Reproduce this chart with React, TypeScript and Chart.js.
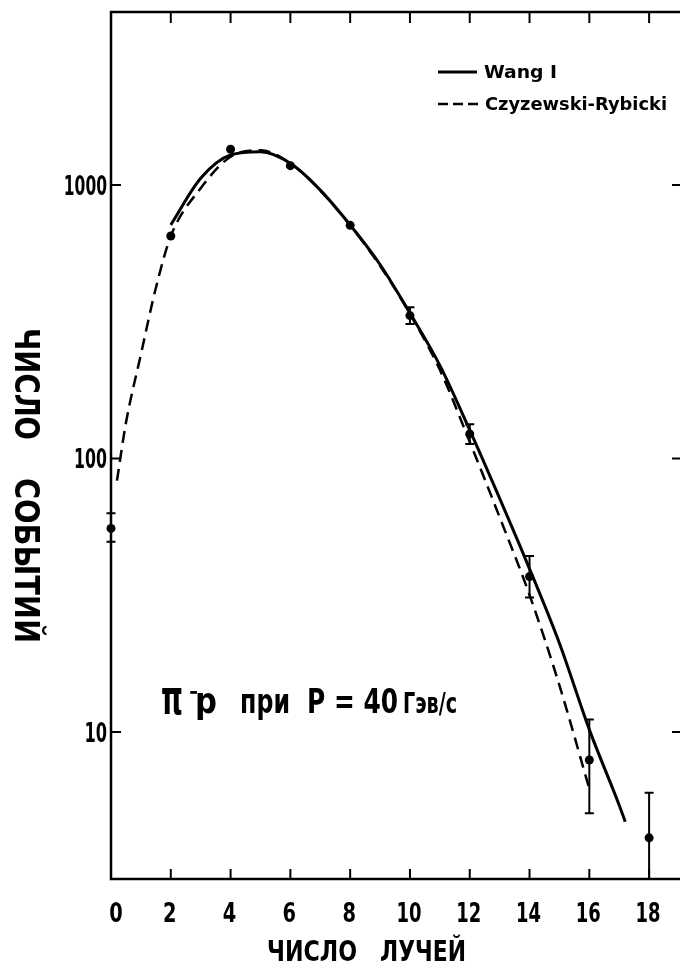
import React, { useEffect, useRef } from "react";
import { Chart, registerables } from "chart.js";

Chart.register(...registerables);

// ---------- data ----------
const X_TICKS = [0, 2, 4, 6, 8, 10, 12, 14, 16, 18];
const Y_TICKS = [10, 100, 1000];
const X_MIN = 0;
const X_MAX = 19.1;
const Y_MIN = 2.9;
const Y_MAX = 4291;

// experimental points: number of prongs vs number of events
const POINT_X = [0, 2, 4, 6, 8, 10, 12, 14, 16, 18];
const POINT_Y = [55.5, 651, 1351, 1177, 712, 333, 123, 37, 7.9, 4.1];
const ERR_LO = [49.6, null, null, null, null, 310, 113, 31, 5.04, 2.5];
const ERR_HI = [63, null, null, null, null, 357, 133.5, 44, 11.1, 6.0];

// Wang I (solid)
const WANG_X = [2, 3, 4, 5, 6, 7, 8, 9, 10, 11, 12, 13, 14, 15, 16, 17, 17.2];
const WANG_Y = [715, 1058, 1288, 1324, 1200, 958, 714, 512, 340, 219, 127, 71.5, 39.5, 21.1, 10.2, 5.4, 4.7];

// Czyzewski-Rybicki (dashed)
const CR_X = [0.2, 0.5, 1, 1.5, 2, 3, 4, 5, 6, 7, 8, 9, 10, 11, 12, 13, 14, 15, 16];
const CR_Y = [83, 135, 240, 420, 650, 973, 1269, 1340, 1200, 955, 712, 506, 338, 211, 115, 61, 31.7, 14.8, 6.2];

const LEGEND_LABELS = ["Wang I", "Czyzewski-Rybicki"];
const X_TITLE = ["ЧИСЛО", "ЛУЧЕЙ"];
const Y_TITLE = ["ЧИСЛО", "СОБЫТИЙ"];

const FONT = "'DejaVu Sans', 'Noto Sans', sans-serif";

function fitText(
  ctx: CanvasRenderingContext2D,
  text: string,
  x: number,
  y: number,
  w: number,
  font: string,
  align: "left" | "center" | "right" = "left"
) {
  ctx.save();
  ctx.font = font;
  ctx.textAlign = "left";
  ctx.textBaseline = "alphabetic";
  const m = ctx.measureText(text).width || 1;
  const x0 = align === "left" ? x : align === "center" ? x - w / 2 : x - w;
  ctx.translate(x0, y);
  ctx.scale(w / m, 1);
  ctx.fillText(text, 0, 0);
  ctx.restore();
}

const decorPlugin = {
  id: "decor",
  afterDatasetsDraw(chart: any) {
    const ctx: CanvasRenderingContext2D = chart.ctx;
    const xs = chart.scales.x;
    const ys = chart.scales.y;
    const a = chart.chartArea;
    ctx.save();
    ctx.beginPath();
    ctx.rect(a.left - 20, a.top, a.right - a.left + 40, a.bottom - a.top);
    ctx.clip();
    ctx.strokeStyle = "#000";
    ctx.lineWidth = 2;
    const cap = 4.5;
    POINT_X.forEach((xv, i) => {
      const lo = ERR_LO[i];
      const hi = ERR_HI[i];
      if (lo == null || hi == null) return;
      const px = xs.getPixelForValue(xv);
      const pl = ys.getPixelForValue(lo);
      const ph = ys.getPixelForValue(hi);
      ctx.beginPath();
      ctx.moveTo(px, pl);
      ctx.lineTo(px, ph);
      ctx.moveTo(px - cap, ph);
      ctx.lineTo(px + cap, ph);
      if (pl < a.bottom - 2) {
        ctx.moveTo(px - cap, pl);
        ctx.lineTo(px + cap, pl);
      }
      ctx.stroke();
    });
    ctx.restore();
  },
  afterDraw(chart: any) {
    const ctx: CanvasRenderingContext2D = chart.ctx;
    const xs = chart.scales.x;
    const ys = chart.scales.y;
    const a = chart.chartArea;
    ctx.save();
    ctx.strokeStyle = "#000";
    ctx.fillStyle = "#000";
    // frame
    ctx.lineWidth = 2.5;
    ctx.strokeRect(a.left, a.top, a.right - a.left, a.bottom - a.top);
    // inner ticks + tick labels
    ctx.lineWidth = 2;
    X_TICKS.forEach((v) => {
      const px = xs.getPixelForValue(v);
      if (v !== X_MIN) {
        ctx.beginPath();
        ctx.moveTo(px, a.bottom);
        ctx.lineTo(px, a.bottom - 10);
        ctx.moveTo(px, a.top);
        ctx.lineTo(px, a.top + 11);
        ctx.stroke();
      }
      const s = String(v);
      const cx = v === X_MIN ? px + 5 : px - 1;
      fitText(ctx, s, cx, a.bottom + 43, 11.5 * s.length + 2, `bold 27px ${FONT}`, "center");
    });
    Y_TICKS.forEach((v) => {
      const py = ys.getPixelForValue(v);
      ctx.beginPath();
      ctx.moveTo(a.left, py);
      ctx.lineTo(a.left + 10, py);
      ctx.moveTo(a.right, py);
      ctx.lineTo(a.right - 10, py);
      ctx.stroke();
      const s = String(v);
      fitText(ctx, s, a.left - 4, py + 10, 10.3 * s.length + 2, `bold 27px ${FONT}`, "right");
    });

    // legend
    ctx.lineWidth = 3;
    ctx.beginPath();
    ctx.moveTo(438, 72);
    ctx.lineTo(477, 72);
    ctx.stroke();
    ctx.lineWidth = 2.5;
    ctx.setLineDash([10, 5]);
    ctx.beginPath();
    ctx.moveTo(438, 104);
    ctx.lineTo(481, 104);
    ctx.stroke();
    ctx.setLineDash([]);
    fitText(ctx, LEGEND_LABELS[0], 484, 78, 73, `bold 18px ${FONT}`);
    fitText(ctx, LEGEND_LABELS[1], 485, 110, 182, `bold 17px ${FONT}`);

    // annotation
    fitText(ctx, "π", 161, 714, 22, `bold 48px ${FONT}`);
    fitText(ctx, "−", 189, 700, 9, `bold 24px ${FONT}`);
    fitText(ctx, "p", 195, 713, 22, `bold 36px ${FONT}`);
    fitText(ctx, "при", 240, 713, 50, `bold 33px ${FONT}`);
    fitText(ctx, "P = 40", 307, 713, 91, `bold 34px ${FONT}`);
    fitText(ctx, "Гэв/с", 403, 713, 54, `bold 29px ${FONT}`);

    // axis titles
    fitText(ctx, X_TITLE[0], 267, 961, 90, `bold 28px ${FONT}`);
    fitText(ctx, X_TITLE[1], 380, 961, 86, `bold 28px ${FONT}`);

    ctx.save();
    ctx.translate(15, 328);
    ctx.rotate(Math.PI / 2);
    fitText(ctx, Y_TITLE[0], 0, 0, 112, `bold 34px ${FONT}`);
    fitText(ctx, Y_TITLE[1], 150, 0, 165, `bold 34px ${FONT}`);
    ctx.restore();

    ctx.restore();
  },
};

export default function App() {
  const ref = useRef<HTMLCanvasElement | null>(null);

  useEffect(() => {
    if (!ref.current) return;
    const chart = new Chart(ref.current, {
      type: "line",
      data: {
        datasets: [
          {
            label: LEGEND_LABELS[0],
            data: WANG_X.map((x, i) => ({ x, y: WANG_Y[i] })),
            borderColor: "#000",
            borderWidth: 3,
            pointRadius: 0,
            fill: false,
            cubicInterpolationMode: "monotone",
          },
          {
            label: LEGEND_LABELS[1],
            data: CR_X.map((x, i) => ({ x, y: CR_Y[i] })),
            borderColor: "#000",
            borderWidth: 2.5,
            borderDash: [12, 7],
            pointRadius: 0,
            fill: false,
            cubicInterpolationMode: "monotone",
          },
          {
            label: "data",
            data: POINT_X.map((x, i) => ({ x, y: POINT_Y[i] })),
            showLine: false,
            pointRadius: 4.5,
            pointBackgroundColor: "#000",
            pointBorderColor: "#000",
            pointBorderWidth: 0,
            clip: false,
          } as any,
        ],
      },
      options: {
        responsive: false,
        animation: false,
        devicePixelRatio: 1,
        layout: { padding: { left: 0, right: 18, top: 12, bottom: 0 } },
        plugins: {
          legend: { display: false },
          tooltip: { enabled: false },
        },
        scales: {
          x: {
            type: "linear",
            min: X_MIN,
            max: X_MAX,
            grid: { display: false },
            border: { display: false },
            afterBuildTicks: (s: any) => {
              s.ticks = X_TICKS.map((value) => ({ value }));
            },
            afterFit: (s: any) => {
              s.height = 85;
            },
            ticks: { display: false },
          },
          y: {
            type: "logarithmic",
            min: Y_MIN,
            max: Y_MAX,
            grid: { display: false },
            border: { display: false },
            afterBuildTicks: (s: any) => {
              s.ticks = Y_TICKS.map((value) => ({ value }));
            },
            afterFit: (s: any) => {
              s.width = 111;
            },
            ticks: { display: false },
          },
        },
      } as any,
      plugins: [decorPlugin],
    });
    return () => chart.destroy();
  }, []);

  return (
    <div
      style={{
        position: "fixed",
        left: 0,
        top: 0,
        width: 680,
        height: 964,
        overflow: "hidden",
        background: "#fff",
      }}
    >
      <canvas ref={ref} width={700} height={964} style={{ display: "block" }} />
    </div>
  );
}
